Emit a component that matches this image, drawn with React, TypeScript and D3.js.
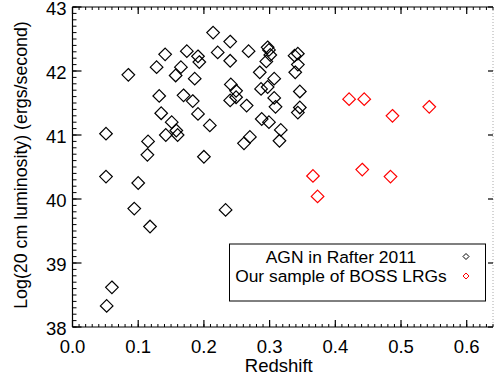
import React from "react";
import * as d3 from "d3";

const agnZ = [0.085,0.128,0.141,0.174,0.191,0.193,0.165,0.157,0.186,0.214,0.221,0.132,0.169,0.183,0.135,0.151,0.191,0.240,0.240,0.268,0.297,0.299,0.301,0.295,0.285,0.338,0.343,0.343,0.339,0.307,0.241,0.249,0.249,0.240,0.287,0.297,0.307,0.309,0.265,0.346,0.346,0.343,0.288,0.299,0.317,0.315,0.158,0.142,0.160,0.209,0.051,0.115,0.114,0.200,0.270,0.261,0.051,0.100,0.094,0.233,0.118,0.052,0.060];
const agnL = [41.94,42.06,42.26,42.31,42.23,42.14,42.06,41.93,41.88,42.60,42.29,41.61,41.62,41.53,41.34,41.20,41.33,42.46,42.16,42.31,42.37,42.33,42.25,42.15,41.98,42.24,42.27,42.10,41.98,41.88,41.79,41.69,41.59,41.54,41.72,41.75,41.58,41.44,41.46,41.68,41.43,41.35,41.25,41.20,41.08,40.91,41.07,41.00,41.00,41.15,41.02,40.90,40.69,40.66,40.97,40.87,40.35,40.25,39.85,39.83,39.57,38.33,38.62];
const bossZ = [0.421,0.444,0.487,0.543,0.366,0.373,0.441,0.484];
const bossL = [41.56,41.56,41.30,41.44,40.36,40.04,40.46,40.35];

const xTicks = [0, 0.1, 0.2, 0.3, 0.4, 0.5, 0.6];
const xTickLabels = ["0.0", "0.1", "0.2", "0.3", "0.4", "0.5", "0.6"];
const yTicks = [38, 39, 40, 41, 42, 43];
const yTickLabels = ["38", "39", "40", "41", "42", "43"];
const legendLabels = ["AGN in Rafter 2011", "Our sample of BOSS LRGs"];
const seriesColors = ["#000000", "#ff0000"];

const W = 495, H = 375;
const L = 72.5, R = 493, T = 7, B = 327;
const FONT = "'Liberation Sans', Arial, sans-serif";

function diamond(cx: number, cy: number, r: number) {
  return `M${cx},${cy - r}L${cx + r},${cy}L${cx},${cy + r}L${cx - r},${cy}Z`;
}

export default function App() {
  const x = d3.scaleLinear().domain([0, 0.64]).range([L, R]);
  const y = d3.scaleLinear().domain([38, 43]).range([B, T]);
  const xMinor = d3.range(0, 64).map((i) => i / 100).concat([0.64]);
  const yMinor = d3.range(0, 51).map((i) => 38 + i / 10);

  return (
    <svg width={W} height={H} style={{ position: "absolute", left: 0, top: 0, background: "#fff" }}>
      <rect width={W} height={H} fill="#fff" />
      {/* frame */}
      <line x1={L} x2={R} y1={B} y2={B} stroke="#000" strokeWidth={1.2} />
      <line x1={L} x2={R} y1={T} y2={T} stroke="#000" strokeWidth={1.2} />
      <line x1={L} x2={L} y1={T} y2={B} stroke="#000" strokeWidth={1.2} />
      <line x1={R} x2={R} y1={T} y2={B} stroke="#aaa" strokeWidth={1} strokeDasharray="1,2" />
      {/* x ticks */}
      {xMinor.map((v, i) => (
        <g key={"xm" + i}>
          <line x1={x(v)} x2={x(v)} y1={B} y2={B - 3} stroke="#000" strokeWidth={1} />
          <line x1={x(v)} x2={x(v)} y1={T} y2={T + 3} stroke="#000" strokeWidth={1} />
        </g>
      ))}
      {xTicks.map((v, i) => (
        <g key={"xt" + i}>
          <line x1={x(v)} x2={x(v)} y1={B} y2={B - 7} stroke="#000" strokeWidth={1.2} />
          <line x1={x(v)} x2={x(v)} y1={T} y2={T + 7} stroke="#000" strokeWidth={1.2} />
          <text x={x(v)} y={B + 25.5} textAnchor="middle" fontFamily={FONT} fontSize={18.5} fill="#000">
            {xTickLabels[i]}
          </text>
        </g>
      ))}
      {/* y ticks */}
      {yMinor.map((v, i) => (
        <line key={"ym" + i} x1={L} x2={L + 4} y1={y(v)} y2={y(v)} stroke="#000" strokeWidth={1} />
      ))}
      {yTicks.map((v, i) => (
        <g key={"yt" + i}>
          <line x1={L} x2={L + 9} y1={y(v)} y2={y(v)} stroke="#000" strokeWidth={1.2} />
          <line x1={R} x2={R - 5} y1={y(v)} y2={y(v)} stroke="#000" strokeWidth={1.2} />
          <text x={L - 6} y={y(v) + 7.5} textAnchor="end" fontFamily={FONT} fontSize={18.5} fill="#000">
            {yTickLabels[i]}
          </text>
        </g>
      ))}
      <text x={(L + R) / 2 - 4} y={H - 3} textAnchor="middle" fontFamily={FONT} fontSize={18.5} fill="#000">
        Redshift
      </text>
      <text
        transform={`translate(27,${(T + B) / 2 - 2}) rotate(-90)`}
        textAnchor="middle"
        fontFamily={FONT}
        fontSize={17.8}
        fill="#000"
      >
        Log(20 cm luminosity) (ergs/second)
      </text>
      {/* points */}
      {agnZ.map((z, i) => (
        <path key={"a" + i} d={diamond(x(z), y(agnL[i]), 6.3)} fill="none" stroke={seriesColors[0]} strokeWidth={1.2} />
      ))}
      {bossZ.map((z, i) => (
        <path key={"b" + i} d={diamond(x(z), y(bossL[i]), 6.3)} fill="none" stroke={seriesColors[1]} strokeWidth={1.2} />
      ))}
      {/* legend */}
      <rect x={229.5} y={244} width={256} height={57} fill="#fff" stroke="#000" strokeWidth={1} />
      {legendLabels.map((lab, i) => (
        <g key={"l" + i}>
          <text x={341} y={262.5 + i * 19.5} textAnchor="middle" fontFamily={FONT} fontSize={17.4} fill="#000">
            {lab}
          </text>
          <path d={diamond(466, 256.5 + i * 19.5, 3)} fill="none" stroke={seriesColors[i]} strokeWidth={1} />
        </g>
      ))}
    </svg>
  );
}
